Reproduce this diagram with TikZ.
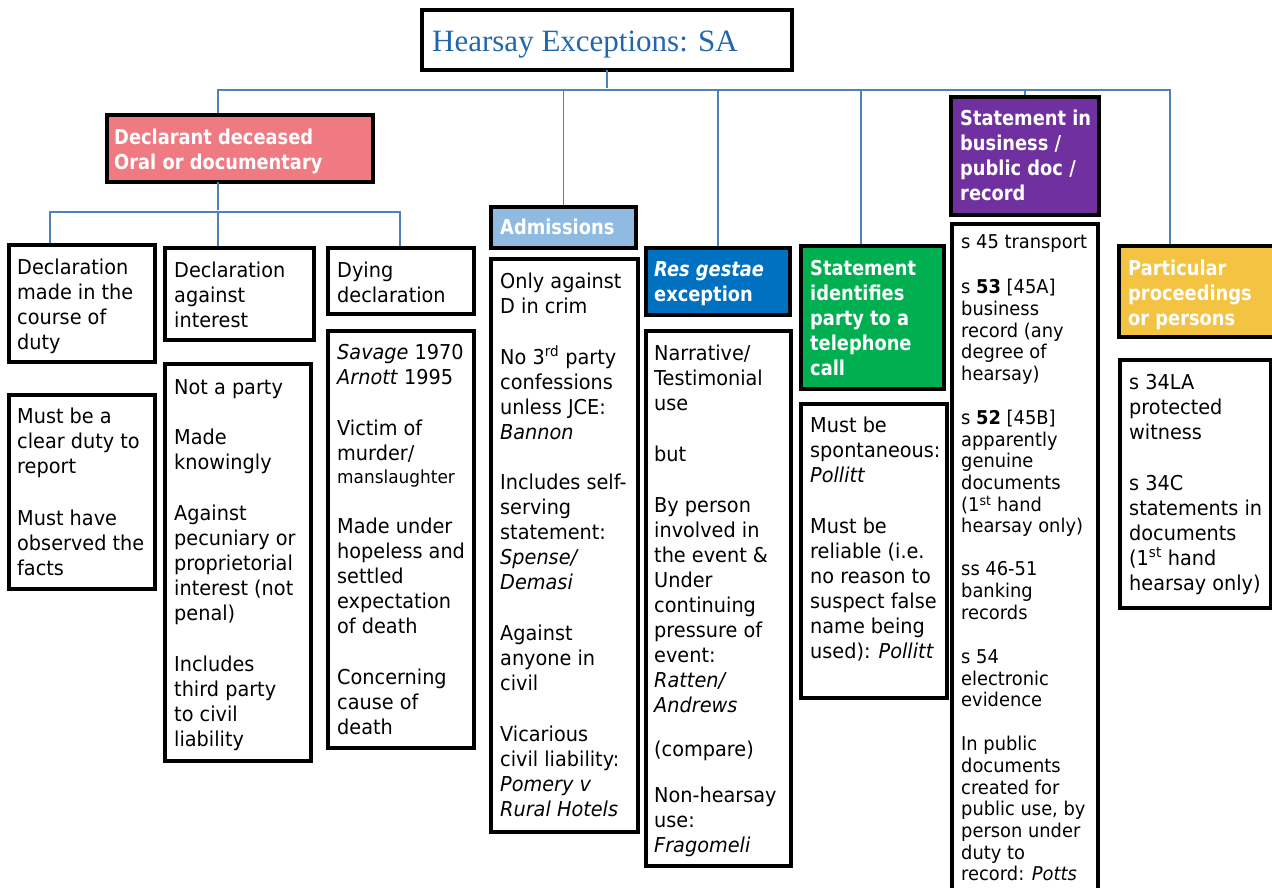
\documentclass[tikz,border=0pt]{standalone}
\usepackage{fontspec}
\setmainfont{DejaVu Sans}[FakeStretch=0.94]
\newfontfamily\hfont{DejaVu Sans}[FakeStretch=0.87]
\newfontfamily\tfont{Liberation Serif}
\definecolor{cpink}{HTML}{F07A82}
\definecolor{cltblue}{HTML}{8FBBE3}
\definecolor{cblue}{HTML}{0070C0}
\definecolor{cgreen}{HTML}{00B050}
\definecolor{cpurple}{HTML}{7030A0}
\definecolor{cgold}{HTML}{F5C342}
\definecolor{cline}{HTML}{4F81BD}
\definecolor{ctitle}{HTML}{2366B0}
\newcommand\bx[6]{\node[boxs,fill=#6,minimum width={(#4-#2)*1pt},minimum height={(#5-#3)*1pt}] (#1) at ({(#2+#4)/2},{(#3+#5)/2}) {};}
\begin{document}
\begin{tikzpicture}[x=1pt,y=-1pt,
  boxs/.style={draw=black,line width=3.4pt,inner sep=0pt,outer sep=0pt,rectangle},
  conn/.style={draw=cline,line width=1.5pt,shorten >=1.6pt},
  body/.style={anchor=north west,inner sep=0pt,align=left,font=\fontsize{20.5}{25}\selectfont},
  sbody/.style={anchor=north west,inner sep=0pt,align=left,font=\fontsize{19}{21.7}\selectfont},
  head/.style={anchor=north west,inner sep=0pt,align=left,text=white,font=\hfont\bfseries\fontsize{20.5}{25}\selectfont}]
\useasboundingbox (0,0) rectangle (1272,888);
\fill[white] (0,0) rectangle (1272,888);
% boxes
\bx{title}{422}{10}{792}{70}{white}
\bx{dec}{107}{115}{373}{182}{cpink}
\bx{b1}{9}{245}{155}{362}{white}
\bx{b2}{165}{248}{314}{340}{white}
\bx{b3}{328}{248}{474}{314}{white}
\bx{b4}{328}{331}{474}{748}{white}
\bx{b5}{9}{395}{155}{589}{white}
\bx{b6}{165}{364}{311}{761}{white}
\bx{adm}{491}{207}{636}{248}{cltblue}
\bx{admb}{491}{259}{638}{832}{white}
\bx{res}{646}{248}{790}{315}{cblue}
\bx{resb}{646}{331}{791}{866}{white}
\bx{tel}{801}{246}{944}{389}{cgreen}
\bx{telb}{801}{404}{947}{698}{white}
\bx{stm}{951}{97}{1099}{215}{cpurple}
\bx{stmb}{952}{224}{1098}{900}{white}
\bx{par}{1119}{246}{1290}{337}{cgold}
\bx{parb}{1120}{360}{1271}{608}{white}
% connectors
\coordinate (hub) at (607,90);
\draw[conn] (title.south) -- (hub);
\draw[conn] (hub) -| ([xshift=-22pt]dec.north);
\draw[conn] (hub) -| (adm.north);
\draw[conn] (hub) -| (res.north);
\draw[conn] (hub) -| ([xshift=-11.5pt]tel.north);
\draw[conn] (hub) -| (stm.north);
\draw[conn] (hub) -| ([xshift=-34.5pt]par.north);
\coordinate (hub2) at (218,212);
\draw[conn] ([xshift=-22pt]dec.south) -- (hub2);
\draw[conn] (hub2) -| ([xshift=-32pt]b1.north);
\draw[conn] (hub2) -| ([xshift=-21.5pt]b2.north);
\draw[conn] (hub2) -| ([xshift=-1pt]b3.north);
% title
\node[anchor=base west,inner sep=0pt,text=ctitle,font=\tfont\fontsize{31}{36}\selectfont] (tt) at (432,52) {Hearsay Exceptions: SA};
% headers
\node[head] (tdec) at (114,126.5) {\strut Declarant deceased\\Oral or documentary};
\node[head] (tadm) at (500,216.5) {\strut Admissions};
\node[head] (tres) at (654,258.5) {\strut \textit{Res gestae}\\exception};
\node[head] (ttel) at (810,257.5) {\strut Statement\\identifies\\party to a\\telephone\\call};
\node[head] (tstm) at (960,107.5) {\strut Statement in\\business /\\public doc /\\record};
\node[head] (tpar) at (1128,257.5) {\strut Particular\\proceedings\\or persons};
% bodies
\node[body] (tb1) at (17,256.5) {\strut Declaration\\made in the\\course of\\duty};
\node[body] (tb2) at (174,259.5) {\strut Declaration\\against\\interest};
\node[body] (tb3) at (337,259.5) {\strut Dying\\declaration};
\node[body] (tb4) at (337,341.5) {\strut \textit{Savage} 1970\\\textit{Arnott} 1995\\[26pt]Victim of\\murder/\\[-2pt]{\fontsize{18}{21}\selectfont manslaughter}\\[25pt]Made under\\hopeless and\\settled\\expectation\\of death\\[26pt]Concerning\\cause of\\death};
\node[body] (tb5) at (17,405.5) {\strut Must be a\\clear duty to\\report\\[27pt]Must have\\observed the\\facts};
\node[body] (tb6) at (174,376.5) {\strut Not a party\\[25pt]Made\\knowingly\\[26pt]Against\\pecuniary or\\proprietorial\\interest (not\\penal)\\[26pt]Includes\\third party\\to civil\\liability};
\node[body] (tadmb) at (500,270.5) {\strut Only against\\D in crim\\[26pt]No 3\textsuperscript{rd} party\\confessions\\unless JCE:\\\textit{Bannon}\\[25pt]Includes self-\\serving\\statement:\\\textit{Spense/}\\\textit{Demasi}\\[26pt]Against\\anyone in\\civil\\[26pt]Vicarious\\civil liability:\\\textit{Pomery v}\\\textit{Rural Hotels}};
\node[body] (tresb) at (654,342.5) {\strut Narrative/\\Testimonial\\use\\[26pt]but\\[26pt]By person\\involved in\\the event \&\\Under\\continuing\\pressure of\\event:\\\textit{Ratten/}\\\textit{Andrews}\\[19pt](compare)\\[21pt]Non-hearsay\\use:\\\textit{Fragomeli}};
\node[body] (ttelb) at (810,414.5) {\strut Must be\\spontaneous:\\\textit{Pollitt}\\[26pt]Must be\\reliable (i.e.\\no reason to\\suspect false\\name being\\used): \textit{Pollitt}};
\node[sbody] (tstmb) at (961,233.3) {\strut s 45 transport\\[23.3pt]s \textbf{53} [45A]\\business\\record (any\\degree of\\hearsay)\\[22.3pt]s \textbf{52} [45B]\\apparently\\genuine\\documents\\(1\textsuperscript{st} hand\\hearsay only)\\[21.3pt]ss 46-51\\banking\\records\\[22.3pt]s 54\\electronic\\evidence\\[22.3pt]In public\\documents\\created for\\public use, by\\person under\\duty to\\record: \textit{Potts}};
\node[body] (tparb) at (1129,371.5) {\strut s 34LA\\protected\\witness\\[26pt]s 34C\\statements in\\documents\\(1\textsuperscript{st} hand\\hearsay only)};
\end{tikzpicture}
\end{document}
